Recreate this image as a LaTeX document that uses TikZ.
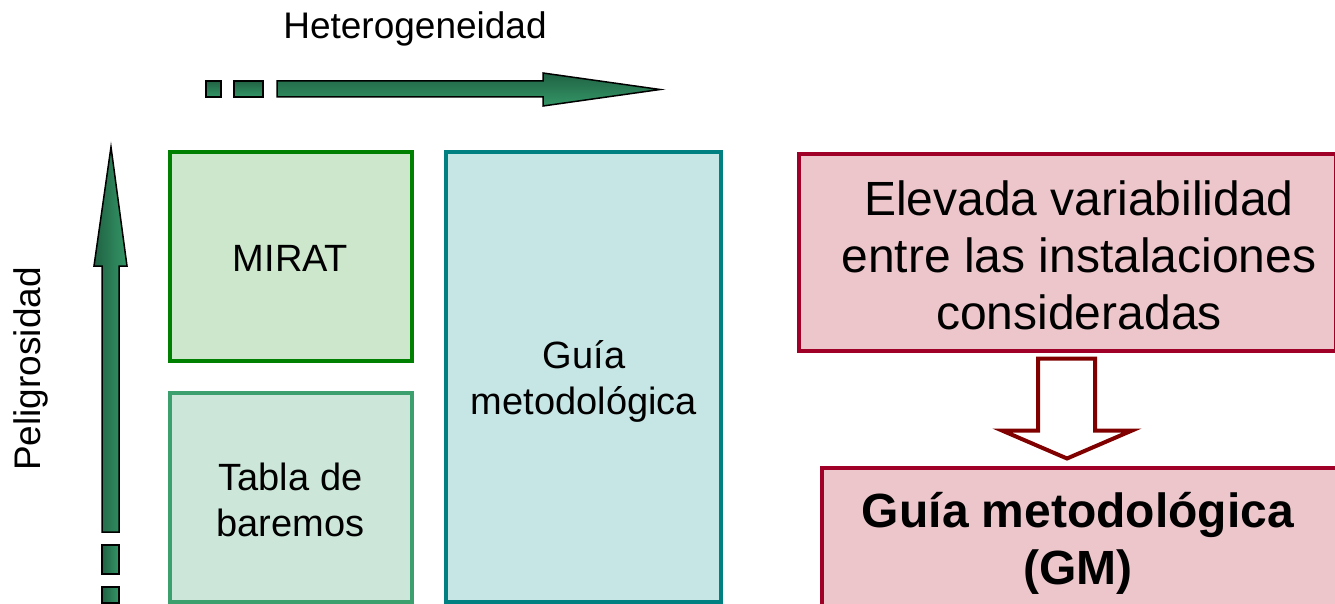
\documentclass[tikz,border=0pt]{standalone}
\usepackage{fontspec}
\setmainfont{Liberation Sans}
\usetikzlibrary{calc}
\definecolor{arrdark}{RGB}{32,98,68}
\definecolor{arrlight}{RGB}{52,150,102}
\definecolor{miratline}{RGB}{0,128,0}
\definecolor{miratfill}{RGB}{204,231,204}
\definecolor{tablaline}{RGB}{60,160,110}
\definecolor{tablafill}{RGB}{204,231,218}
\definecolor{guialine}{RGB}{0,128,128}
\definecolor{guiafill}{RGB}{198,229,229}
\definecolor{redline}{RGB}{160,0,40}
\definecolor{redfill}{RGB}{236,198,202}
\definecolor{hollowred}{RGB}{128,0,0}
\tikzset{
  box/.style={rectangle, inner sep=0pt, outer sep=0pt, line width=4pt},
  boxtext/.style={align=center, inner sep=0pt, font=\fontsize{38}{46}\selectfont},
  redtext/.style={align=center, inner sep=0pt, font=\fontsize{48}{57}\selectfont},
  axistext/.style={inner sep=0pt, font=\fontsize{37}{44}\selectfont},
  harrow/.style={draw=black, line width=1.5pt, top color=arrdark, bottom color=arrlight},
  varrow/.style={draw=black, line width=1.5pt, left color=arrdark, right color=arrlight},
}
\begin{document}
\begin{tikzpicture}[x=1pt,y=-1pt]
\useasboundingbox (0,0) rectangle (1335,604);
\clip (0,0) rectangle (1335,604);

% axis labels
\node[axistext] (het) at (415,29) {Heterogeneidad};
\node[axistext, rotate=90] (pel) at (31,369) {Peligrosidad};

% horizontal dashed arrow
\path[harrow] (206,81) rectangle (221,97);
\path[harrow] (234,81) rectangle (263,97);
\path[harrow] (277,81) -- (543,81) -- (543,73) -- (660,89.5) -- (543,106) -- (543,97) -- (277,97) -- cycle;

% vertical dashed arrow
\path[varrow] (102,532) -- (102,266) -- (94,266) -- (111,147) -- (127,266) -- (119,266) -- (119,532) -- cycle;
\path[varrow] (102,545) rectangle (119,574);
\path[varrow] (102,587) rectangle (119,603);

% boxes
\node[box, draw=miratline, fill=miratfill, minimum width=242pt, minimum height=208pt] (mirat) at (290.5,256.5) {};
\node[box, draw=tablaline, fill=tablafill, minimum width=242pt, minimum height=209pt] (tabla) at (290.5,497) {};
\node[box, draw=guialine, fill=guiafill, minimum width=275pt, minimum height=449pt] (guia) at (583,377) {};
\node[box, draw=redline, fill=redfill, minimum width=537pt, minimum height=196pt] (elev) at (1067,252.5) {};
\node[box, draw=redline, fill=redfill, minimum width=517pt, minimum height=200pt] (gm) at (1080,567.5) {};

\node[boxtext] (miratt) at (290.5,258.5) {MIRAT};
\node[boxtext] (tablat) at (290.5,500) {Tabla de\\baremos};
\node[boxtext] (guiat) at (584,381) {Guía\\metodológica};
\node[redtext] (elevt) at (1079,255) {Elevada variabilidad\\entre las instalaciones\\consideradas};
\node[redtext, font=\fontsize{48}{57}\selectfont\bfseries] (gmt) at (1078,543) {Guía metodológica\\(GM)};

% hollow arrow between red boxes
\draw[hollowred, line width=4pt, fill=white, line join=miter]
  ($(elev.south)+(-29,8)$) -- ($(elev.south)+(28,8)$) -- ($(elev.south)+(28,80)$)
  -- ($(elev.south)+(65,80)$) -- ($(elev.south)+(0,108)$) -- ($(elev.south)+(-65,80)$)
  -- ($(elev.south)+(-29,80)$) -- cycle;
\end{tikzpicture}
\end{document}
